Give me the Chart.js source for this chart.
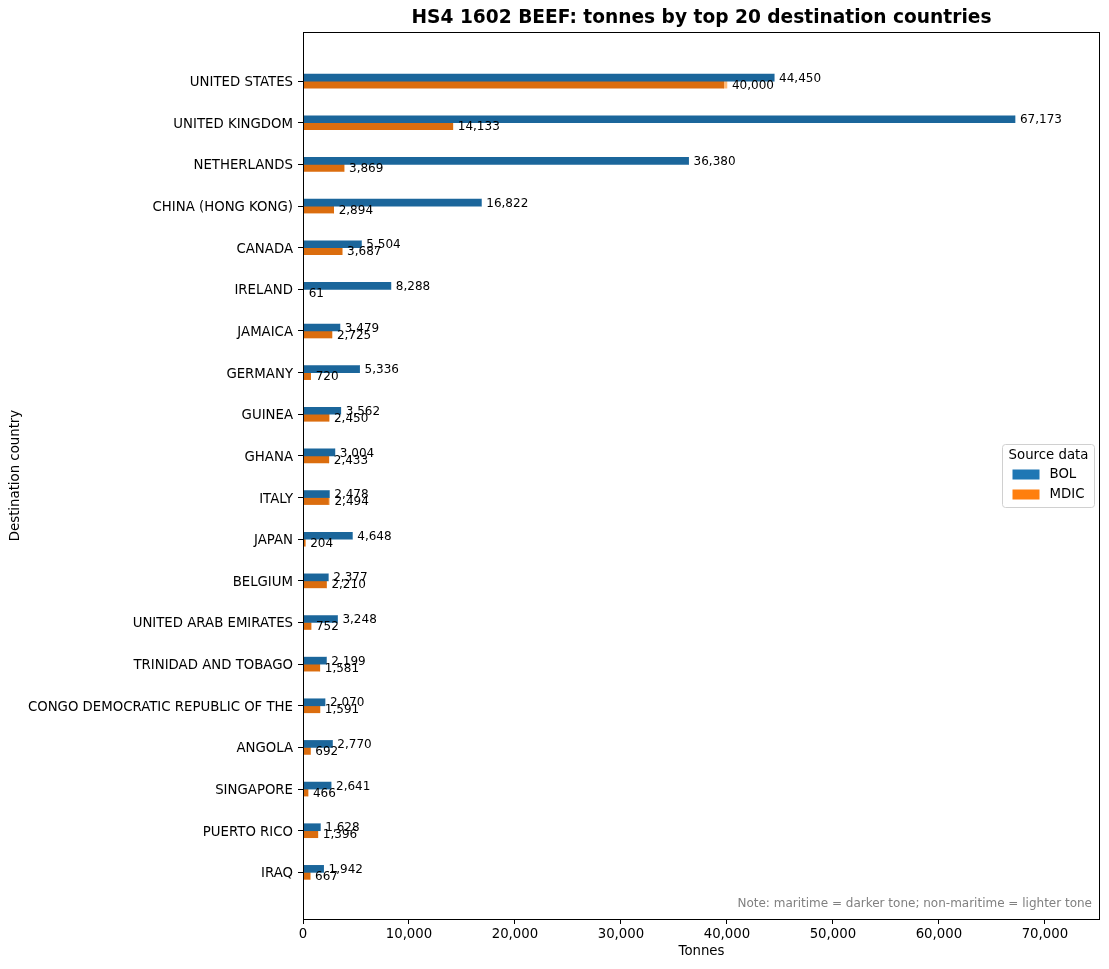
<!DOCTYPE html>
<html>
<head>
<meta charset="utf-8">
<script src="https://cdn.jsdelivr.net/npm/chart.js@4"></script>
<style>
  html, body { margin: 0; padding: 0; background: #fff; }
  #wrap { width: 1109px; height: 969px; }
</style>
</head>
<body>
<div id="wrap"><canvas id="chart"></canvas></div>
<script>
// destination countries, top to bottom
const countries = [
  'UNITED STATES', 'UNITED KINGDOM', 'NETHERLANDS', 'CHINA (HONG KONG)', 'CANADA',
  'IRELAND', 'JAMAICA', 'GERMANY', 'GUINEA', 'GHANA',
  'ITALY', 'JAPAN', 'BELGIUM', 'UNITED ARAB EMIRATES', 'TRINIDAD AND TOBAGO',
  'CONGO DEMOCRATIC REPUBLIC OF THE', 'ANGOLA', 'SINGAPORE', 'PUERTO RICO', 'IRAQ'
];

// tonnes, BOL source
const bolMaritime    = [44450, 67173, 36380, 16822, 5504, 8288, 3479, 5336, 3562, 3004,
                        2478, 4648, 2377, 3248, 2199, 2070, 2770, 2641, 1628, 1942];
const bolNonMaritime = [0, 0, 0, 0, 0, 0, 0, 0, 0, 0,
                        0, 0, 0, 0, 0, 0, 0, 0, 0, 0];

// tonnes, MDIC source
const mdicMaritime    = [39690, 14133, 3869, 2894, 3687, 61, 2725, 720, 2450, 2433,
                         2400, 204, 2210, 752, 1581, 1591, 692, 466, 1396, 667];
const mdicNonMaritime = [310, 0, 0, 0, 0, 0, 0, 0, 0, 0,
                         94, 0, 0, 0, 0, 0, 0, 0, 0, 0];

const xTicks = [0, 10000, 20000, 30000, 40000, 50000, 60000, 70000];

const FONT = 'DejaVu Sans';
const fmt = v => Math.round(v).toLocaleString('en-US');
const toPoints = arr => arr.map((v, i) => ({ x: v, y: i }));

// value labels at the end of each stacked bar
const barLabels = {
  id: 'barLabels',
  afterDatasetsDraw(chart) {
    const ctx = chart.ctx;
    ctx.save();
    ctx.font = '12px "' + FONT + '"';
    ctx.fillStyle = '#000';
    ctx.textBaseline = 'middle';
    ctx.textAlign = 'left';
    const groups = [[0, 1], [2, 3]];
    groups.forEach(([a, b]) => {
      const metaTop = chart.getDatasetMeta(b);
      const d1 = chart.data.datasets[a].data;
      const d2 = chart.data.datasets[b].data;
      metaTop.data.forEach((el, i) => {
        const total = d1[i].x + d2[i].x;
        ctx.fillText(fmt(total), el.x + 5, el.y + 1);
      });
    });
    ctx.restore();
  }
};

// title, axes box, legend and note
const decorations = {
  id: 'decorations',
  afterDraw(chart) {
    const { ctx, chartArea: ca } = chart;
    ctx.save();
    ctx.strokeStyle = '#000';
    ctx.lineWidth = 1;
    ctx.strokeRect(Math.round(ca.left) + 0.5, Math.round(ca.top) + 0.5,
                   Math.round(ca.right - ca.left) - 1, Math.round(ca.bottom - ca.top));

    // title
    ctx.fillStyle = '#000';
    ctx.font = 'bold 18.6px "' + FONT + '"';
    ctx.textAlign = 'center';
    ctx.textBaseline = 'middle';
    ctx.fillText('HS4 1602 BEEF: tonnes by top 20 destination countries', (ca.left + ca.right) / 2, 18);

    // note
    ctx.font = '12px "' + FONT + '"';
    ctx.fillStyle = '#808080';
    ctx.textAlign = 'right';
    ctx.fillText('Note: maritime = darker tone; non-maritime = lighter tone', ca.right - 8, ca.bottom - 15);

    // legend
    const bx = 1002.5, by = 444.5, bw = 92, bh = 63;
    ctx.beginPath();
    ctx.roundRect(bx, by, bw, bh, 3);
    ctx.fillStyle = 'rgba(255,255,255,0.8)';
    ctx.fill();
    ctx.strokeStyle = '#d0d0d0';
    ctx.stroke();
    ctx.fillStyle = '#000';
    ctx.textAlign = 'center';
    ctx.font = '13.3px "' + FONT + '"';
    ctx.fillText('Source data', bx + bw / 2, by + 11);
    const items = [['BOL', '#1f77b4'], ['MDIC', '#ff7f0e']];
    items.forEach(([name, col], k) => {
      const y = by + 25 + k * 20;
      ctx.fillStyle = col;
      ctx.fillRect(bx + 10, y, 27, 10);
      ctx.fillStyle = '#000';
      ctx.textAlign = 'left';
      ctx.fillText(name, bx + 47, y + 5);
    });
    ctx.restore();
  }
};

new Chart(document.getElementById('chart'), {
  type: 'bar',
  data: {
    datasets: [
      { label: 'BOL maritime', data: toPoints(bolMaritime), stack: 'BOL', backgroundColor: '#1b669b' },
      { label: 'BOL non-maritime', data: toPoints(bolNonMaritime), stack: 'BOL', backgroundColor: '#8fbbda' },
      { label: 'MDIC maritime', data: toPoints(mdicMaritime), stack: 'MDIC', backgroundColor: '#db6d0e' },
      { label: 'MDIC non-maritime', data: toPoints(mdicNonMaritime), stack: 'MDIC', backgroundColor: '#ffbb78' }
    ]
  },
  options: {
    indexAxis: 'y',
    responsive: true,
    maintainAspectRatio: false,
    animation: false,
    barThickness: 7,
    borderWidth: 0,
    layout: { padding: { top: 32, left: 0, right: 9, bottom: 0 } },
    plugins: {
      legend: { display: false },
      tooltip: { enabled: false },
      title: { display: false }
    },
    scales: {
      x: {
        type: 'linear',
        stacked: true,
        min: 0,
        max: 75200,
        afterFit: s => { s.height = 50; },
        afterBuildTicks: s => { s.ticks = xTicks.map(v => ({ value: v })); },
        ticks: {
          color: '#000',
          font: { family: FONT, size: 13.3 },
          padding: 3,
          callback: v => fmt(v)
        },
        grid: { display: true, drawOnChartArea: false, drawTicks: true, tickLength: 5, color: '#000' },
        border: { display: false },
        title: {
          display: true,
          text: 'Tonnes',
          color: '#000',
          font: { family: FONT, size: 13.3 },
          padding: { top: 0, bottom: 9 }
        }
      },
      y: {
        type: 'linear',
        stacked: true,
        reverse: true,
        offset: false,
        min: -1.18,
        max: 20.12,
        afterFit: s => { s.width = 303; },
        afterBuildTicks: s => { s.ticks = countries.map((c, i) => ({ value: i })); },
        ticks: {
          color: '#000',
          autoSkip: false,
          font: { family: FONT, size: 13.3 },
          padding: 5,
          labelOffset: 1.5,
          callback: v => countries[v] || ''
        },
        grid: { display: true, offset: false, drawOnChartArea: false, drawTicks: true, tickLength: 5, color: '#000' },
        border: { display: false },
        title: {
          display: true,
          text: 'Destination country',
          color: '#000',
          font: { family: FONT, size: 13.3 },
          padding: { top: 8, bottom: 0 }
        }
      }
    }
  },
  plugins: [barLabels, decorations]
});
</script>
</body>
</html>
